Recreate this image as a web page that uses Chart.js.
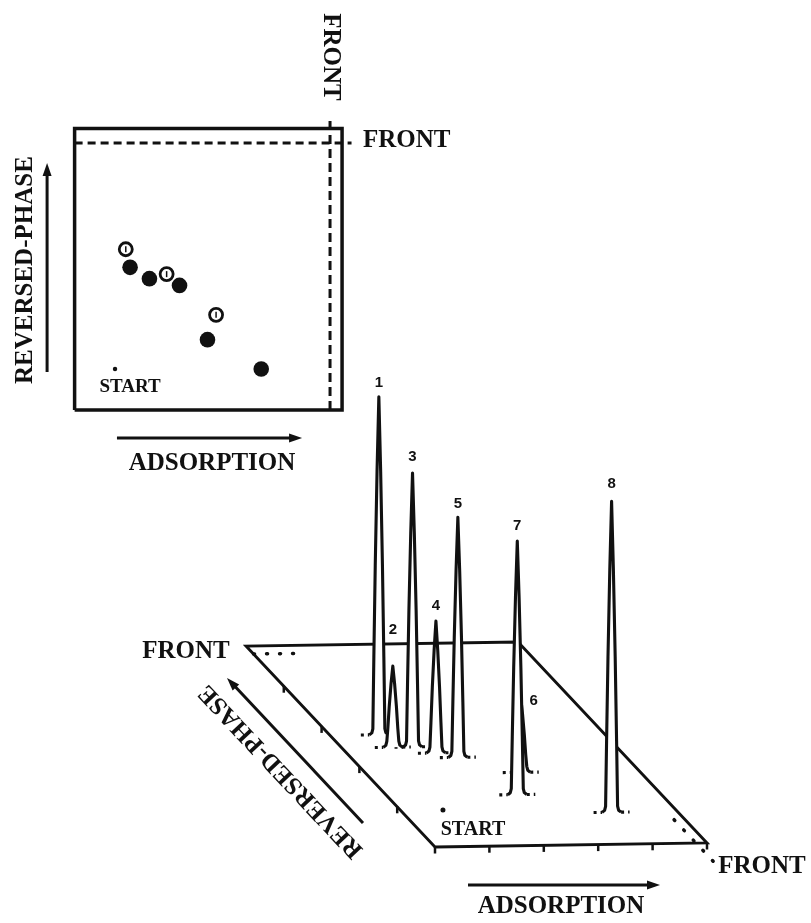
<!DOCTYPE html>
<html>
<head>
<meta charset="utf-8">
<script src="https://cdn.jsdelivr.net/npm/chart.js@4.4.0/dist/chart.umd.min.js"></script>
<style>
  html, body { margin: 0; padding: 0; background: #fff; }
  #wrap { position: relative; width: 811px; height: 923px; }
  canvas { position: absolute; left: 0; top: 0; }
</style>
</head>
<body>
<div id="wrap">
  <canvas id="plate" width="470" height="480"></canvas>
  <canvas id="scan" width="811" height="923"></canvas>
</div>
<script>
// compounds 1..8 and their spots on the 2D plate (Rf, start = 0, front = 1)
const compounds = ['1', '2', '3', '4', '5', '6', '7', '8'];
const spotType = ['open', 'filled', 'filled', 'open', 'filled', 'open', 'filled', 'filled'];
const spotAds = [0.05, 0.07, 0.16, 0.24, 0.30, 0.47, 0.43, 0.68];
const spotRp = [0.53, 0.45, 0.40, 0.42, 0.37, 0.24, 0.13, 0.00];

// the same compounds as read on the 3D densitogram
const peakAds = [0.03, 0.04, 0.13, 0.21, 0.29, 0.51, 0.40, 0.75];
const peakRp = [0.48, 0.40, 0.40, 0.36, 0.33, 0.23, 0.09, -0.03];
const peakHeight = [100, 24, 81, 39, 71, 22, 75, 92]; // relative, peak 1 = 100

const plateTicks = [0, 0.2, 0.4, 0.6, 0.8, 1];

const black = '#111';
const serif = '"Liberation Serif", "Times New Roman", serif';
const boldSerif = 'bold 25px ' + serif;

// draws text labels and arrows in data units of the chart
function annotations(texts, arrows) {
  return {
    id: 'annotations',
    afterDraw(chart) {
      const { ctx, scales: { x, y } } = chart;
      ctx.save();
      ctx.fillStyle = black;
      ctx.strokeStyle = black;
      arrows.forEach(a => {
        const x0 = x.getPixelForValue(a.from[0]), y0 = y.getPixelForValue(a.from[1]);
        const x1 = x.getPixelForValue(a.to[0]), y1 = y.getPixelForValue(a.to[1]);
        const ang = Math.atan2(y1 - y0, x1 - x0);
        const len = 13, wid = 4.5;
        ctx.lineWidth = 3;
        ctx.beginPath();
        ctx.moveTo(x0, y0);
        ctx.lineTo(x1 - Math.cos(ang) * len * 0.8, y1 - Math.sin(ang) * len * 0.8);
        ctx.stroke();
        ctx.beginPath();
        ctx.moveTo(x1, y1);
        ctx.lineTo(x1 - Math.cos(ang) * len - Math.sin(ang) * wid, y1 - Math.sin(ang) * len + Math.cos(ang) * wid);
        ctx.lineTo(x1 - Math.cos(ang) * len + Math.sin(ang) * wid, y1 - Math.sin(ang) * len - Math.cos(ang) * wid);
        ctx.closePath();
        ctx.fill();
      });
      texts.forEach(t => {
        ctx.save();
        ctx.translate(x.getPixelForValue(t.x) + (t.dx || 0), y.getPixelForValue(t.y) + (t.dy || 0));
        ctx.rotate((t.rot || 0) * Math.PI / 180);
        ctx.font = t.font;
        ctx.textAlign = t.align || 'center';
        ctx.textBaseline = 'middle';
        ctx.fillText(t.text, 0, 0);
        ctx.restore();
      });
      ctx.restore();
    }
  };
}

const common = {
  responsive: false,
  animation: false,
  events: [],
  layout: { autoPadding: false, padding: 0 },
  plugins: { legend: { display: false }, tooltip: { enabled: false } }
};

// ---------- 2D plate ----------
const edge = { l: -0.188, r: 1.056, t: 1.064, b: -0.181 };
const openIdx = compounds.map((c, i) => i).filter(i => spotType[i] === 'open');
const filledIdx = compounds.map((c, i) => i).filter(i => spotType[i] === 'filled');

new Chart(document.getElementById('plate'), {
  type: 'scatter',
  data: {
    datasets: [
      {
        data: [
          { x: edge.l, y: edge.b }, { x: edge.r, y: edge.b }, { x: edge.r, y: edge.t },
          { x: edge.l, y: edge.t }, { x: edge.l, y: edge.b }
        ],
        showLine: true, borderColor: black, borderWidth: 3.5, borderJoinStyle: 'miter', pointRadius: 0, order: 5
      },
      {
        data: [{ x: edge.l, y: 1 }, { x: 1.10, y: 1 }],
        showLine: true, borderColor: black, borderWidth: 3, borderDash: [8, 5], pointRadius: 0, order: 5
      },
      {
        data: [{ x: 1, y: edge.b }, { x: 1, y: 1.12 }],
        showLine: true, borderColor: black, borderWidth: 3, borderDash: [9, 5], pointRadius: 0, order: 5
      },
      {
        data: [{ x: 0, y: 0 }],
        pointRadius: 2.2, backgroundColor: black, borderWidth: 0, order: 4
      },
      {
        data: filledIdx.map(i => ({ x: spotAds[i], y: spotRp[i] })),
        pointRadius: 7.8, backgroundColor: black, borderColor: black, borderWidth: 0, order: 3
      },
      {
        data: openIdx.map(i => ({ x: spotAds[i], y: spotRp[i] })),
        pointRadius: 6.5, backgroundColor: '#fff', borderColor: black, borderWidth: 2.8, order: 2
      },
      {
        data: openIdx.map(i => ({ x: spotAds[i], y: spotRp[i] })),
        pointStyle: 'line', rotation: 90, pointRadius: 3, borderColor: black, borderWidth: 1.5, order: 1
      }
    ]
  },
  options: Object.assign({}, common, {
    scales: {
      x: { type: 'linear', min: -0.535, max: 1.651, display: false },
      y: { type: 'linear', min: -0.491, max: 1.633, display: false }
    }
  }),
  plugins: [annotations(
    [
      { text: 'REVERSED-PHASE', x: -0.414, y: 0.438, rot: -90, font: boldSerif },
      { text: 'ADSORPTION', x: 0.451, y: -0.416, font: boldSerif },
      { text: 'START', x: 0.070, y: -0.080, font: 'bold 19px ' + serif },
      { text: 'FRONT', x: 1.0, y: 1.381, rot: 90, font: boldSerif },
      { text: 'FRONT', x: 1.153, y: 1.013, align: 'left', font: boldSerif }
    ],
    [
      { from: [-0.316, -0.013], to: [-0.316, 0.912] },
      { from: [0.009, -0.305], to: [0.870, -0.305] }
    ]
  )]
});

// ---------- 3D densitogram ----------
const corner = { x: 435, y: 847 };      // plate corner below the start
const axA = { x: 272, y: -4 };          // adsorption edge of the plate on screen
const axR = { x: -189, y: -201 };       // reversed-phase edge of the plate on screen
const hPx = 3.38;                       // screen px per height unit
const startU = 0.155, frontU = 0.96, startV = 0.181, frontV = 0.96;

function plateXY(u, v, lift) {
  return { x: corner.x + u * axA.x + v * axR.x, y: corner.y + u * axA.y + v * axR.y - (lift || 0) };
}
function rfXY(a, r, lift) {
  return plateXY(startU + a * (frontU - startU), startV + r * (frontV - startV), lift);
}

// half outline of a peak: [dx px, fraction of height, extra px]
const peakHalf = [[18, 0, 0], [9.5, 0, 0], [7, 0, 2], [6, 0, 6], [5, 0.23, 0], [3.6, 0.5, 0], [1.8, 0.78, 0]];
function peakPoints(i) {
  const base = rfXY(peakAds[i], peakRp[i]);
  const h = peakHeight[i] * hPx;
  const tilt = axA.y / axA.x;
  const left = peakHalf.map(p => ({ x: base.x - p[0], y: base.y - p[0] * tilt - (p[1] * h + p[2]) }));
  const right = peakHalf.slice().reverse().map(p => ({ x: base.x + p[0], y: base.y + p[0] * tilt - (p[1] * h + p[2]) }));
  return left.concat([{ x: base.x, y: base.y - h }], right);
}

const labelShift = [[0, -14], [0, -36], [0, -16], [0, -15], [0, -14], [13, 3], [0, -15], [0, -17]];

const scanSets = [
  {
    data: [plateXY(0, 0), plateXY(1, 0), plateXY(1, 1), plateXY(0, 1), plateXY(0, 0)],
    showLine: true, borderColor: black, borderWidth: 2.8, borderJoinStyle: 'miter', pointRadius: 0, order: 100
  },
  {
    data: [plateXY(0.0, frontV), plateXY(0.17, frontV)],
    showLine: true, borderColor: black, borderWidth: 3.5, borderDash: [1, 12], borderCapStyle: 'round',
    pointRadius: 0, order: 99
  },
  {
    data: [plateXY(frontU, -0.09), plateXY(frontU, 0.12)],
    showLine: true, borderColor: black, borderWidth: 3.5, borderDash: [1, 13], borderCapStyle: 'round',
    pointRadius: 0, order: 99
  },
  {
    data: plateTicks.map(t => plateXY(t, 0)).concat(plateTicks.slice(1, -1).map(t => plateXY(0, t)))
      .map(p => ({ x: p.x, y: p.y + 3 })),
    pointStyle: 'line', rotation: 90, pointRadius: 3.5, borderColor: black, borderWidth: 2.5, order: 98
  },
  {
    data: [rfXY(0, 0)],
    pointRadius: 2.5, backgroundColor: black, borderWidth: 0, order: 98
  }
];

compounds.forEach((c, i) => {
  const pts = peakPoints(i);
  const n = pts.length;
  scanSets.push({
    data: pts,
    showLine: true,
    fill: 'shape',
    backgroundColor: '#fff',
    borderColor: black,
    borderWidth: 3.1,
    borderJoinStyle: 'round',
    pointRadius: 0,
    tension: 0,
    order: 10 + peakRp[i] * 10,
    segment: {
      borderDash: s => (s.p0DataIndex === 0 || s.p1DataIndex === n - 1) ? [3, 4] : undefined
    }
  });
});

const peakLabels = compounds.map((c, i) => {
  const top = rfXY(peakAds[i], peakRp[i], peakHeight[i] * hPx);
  return { text: c, x: top.x, y: top.y, dx: labelShift[i][0], dy: labelShift[i][1], font: 'bold 15px "Liberation Sans", Arial, sans-serif' };
});

new Chart(document.getElementById('scan'), {
  type: 'scatter',
  data: { datasets: scanSets },
  options: Object.assign({}, common, {
    scales: {
      x: { type: 'linear', min: 0, max: 811, display: false },
      y: { type: 'linear', min: 0, max: 923, reverse: true, display: false }
    }
  }),
  plugins: [annotations(
    peakLabels.concat([
      { text: 'FRONT', x: 186, y: 652, font: boldSerif },
      { text: 'FRONT', x: 762, y: 867, font: boldSerif },
      { text: 'ADSORPTION', x: 561, y: 907, font: boldSerif },
      { text: 'START', x: 473, y: 830, font: 'bold 20px ' + serif },
      { text: 'REVERSED-PHASE', x: 281, y: 771, rot: -133.2, font: boldSerif }
    ]),
    [
      { from: [468, 885], to: [660, 885] },
      { from: [363, 823], to: [227, 678] }
    ]
  )]
});
</script>
</body>
</html>
